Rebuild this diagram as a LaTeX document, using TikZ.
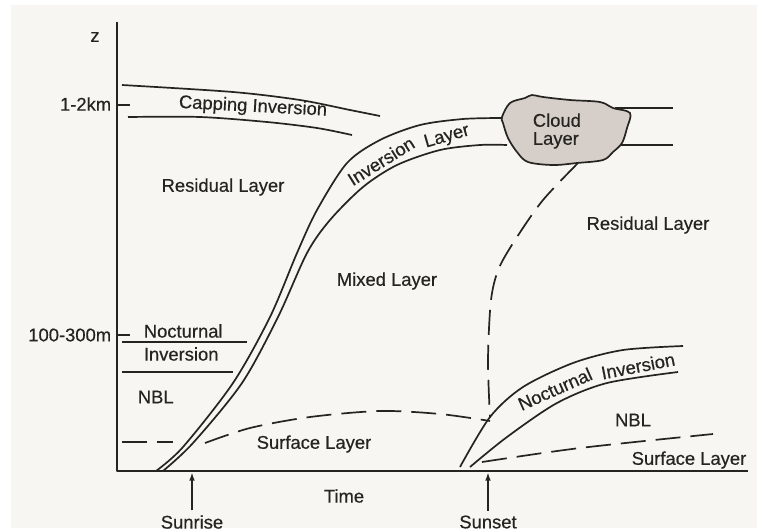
\documentclass[tikz,border=0pt]{standalone}
\usepackage{fontspec}
\setmainfont{Liberation Sans}[FakeBold=0.45]
\usetikzlibrary{arrows.meta}

\definecolor{ink}{RGB}{38,36,32}
\definecolor{paper}{RGB}{248,246,243}
\definecolor{cloudgray}{RGB}{214,206,201}
\newcommand\labfont{\fontsize{18.4}{18}\selectfont}

\begin{document}
\begin{tikzpicture}[x=1pt,y=-1pt,line width=1.7pt,draw=ink,line join=round,font=\labfont,
	lbl/.style={text=ink,inner sep=0pt},
	layerline/.style={draw=ink,line width=1.7pt},
	dashline/.style={draw=ink,line width=1.7pt,dash pattern=on 25pt off 10pt},
	sunarrow/.style={draw=ink,line width=1.3pt,-{Latex[length=8pt,width=5.5pt]},shorten <=4pt,shorten >=1.5pt}]

%paper
\fill[white] (0,0) rectangle (757,528);
\fill[paper] (11,5) rectangle (757,528);
\useasboundingbox (0,0) rectangle (757,528);

%draw axes
\coordinate (origin) at (117,471);
\coordinate (ztop) at (117,22);
\coordinate (tend) at (748,471);
\draw (ztop) -- (origin) -- (tend);
\node[lbl] (zlabel) at (95,37) {z};
\node[lbl] (time) at (344,496) {Time};

%height ticks
\coordinate (kmtick) at (117,105);
\coordinate (mtick) at (117,335);
\draw (kmtick) -- ++(13,0);
\draw (mtick) -- ++(13,0);
\node[lbl,anchor=east] (kmlabel) at (112,104) {1-2km};
\node[lbl,anchor=east] (mlabel) at (112,335) {100-300m};

%sunrise and sunset
\node[lbl] (sunrise) at (192,522) {Sunrise};
\node[lbl] (sunset) at (488,522) {Sunset};
\draw[sunarrow] (sunrise.north) -- (sunrise.north |- origin);
\draw[sunarrow] (sunset.north) -- (sunset.north |- origin);

%capping inversion
\draw[layerline] plot[smooth] coordinates {(122,85) (233,92) (300,100) (350,110) (380,116)};
\draw[layerline] plot[smooth] coordinates {(128,117) (200,117) (267,122) (317,128) (352,135)};
\node[lbl,rotate=-3] (capping) at (253,107) {Capping Inversion};

%morning nocturnal inversion
\draw[layerline] (122,342) -- (247,342);
\draw[layerline] (122,372) -- (233,372);
\draw[dashline] (122,442) -- (173,442);
\node[lbl,anchor=west] (nocturnal) at (143,331) {Nocturnal};
\node[lbl,anchor=west] (inversion) at (143,354) {Inversion};
\node[lbl,anchor=west] (nblleft) at (137,397) {NBL};

%inversion layer
\draw[layerline] plot[smooth] coordinates {(156,471) (183,447) (233,383) (270,317) (297,253) (317,210) (347,163) (380,140) (420,125) (463,119) (502,118)};
\draw[layerline] plot[smooth] coordinates {(163,471) (193,443) (242,383) (278,317) (307,253) (330,220) (363,187) (397,165) (440,150) (480,145) (507,145)};
\draw[layerline] (615,108) -- (673,108);
\draw[layerline] (615,145) -- (673,145);
\node[lbl,rotate=32] (invword) at (381,161) {Inversion};
\node[lbl,rotate=16] (layerword) at (447,137) {Layer};

%cloud layer
\filldraw[fill=cloudgray,draw=ink,line width=1.7pt] plot[smooth cycle,tension=0.55] coordinates {(502,117) (510,103) (525,98) (532,95) (543,97) (570,100) (600,102) (613,108) (630,113) (627,128) (622,143) (613,152) (603,160) (577,163) (553,165) (528,162) (517,152) (508,138) (503,123)};
\node[lbl,anchor=west,align=left] (cloud) at (532,131) {Cloud\\Layer};

%surface layer and mixed layer top
\draw[dashline] plot[smooth] coordinates {(205,443) (250,428) (310,417) (380,411) (440,414) (490,421)};
\draw[dashline] plot[smooth] coordinates {(578,163) (543,200) (517,237) (499,268) (491,300) (488,360) (490,418)};

%evening nocturnal inversion
\draw[layerline] plot[smooth] coordinates {(460,467) (490,417) (523,387) (573,363) (623,350) (683,346)};
\draw[layerline] plot[smooth] coordinates {(470,467) (507,437) (557,403) (607,383) (678,372)};
\draw[dashline] plot[smooth] coordinates {(482,462) (580,448) (713,434)};
\node[lbl,rotate=24] (nocword) at (555,389) {Nocturnal};
\node[lbl,rotate=11] (invword2) at (638,366) {Inversion};

%layer labels
\node[lbl] (residualleft) at (223,187) {Residual Layer};
\node[lbl] (residualright) at (648,225) {Residual Layer};
\node[lbl] (mixed) at (387,281) {Mixed Layer};
\node[lbl] (surfaceleft) at (314,444) {Surface Layer};
\node[lbl] (surfaceright) at (689,460) {Surface Layer};
\node[lbl] (nblright) at (633,420) {NBL};

\end{tikzpicture}
\end{document}
